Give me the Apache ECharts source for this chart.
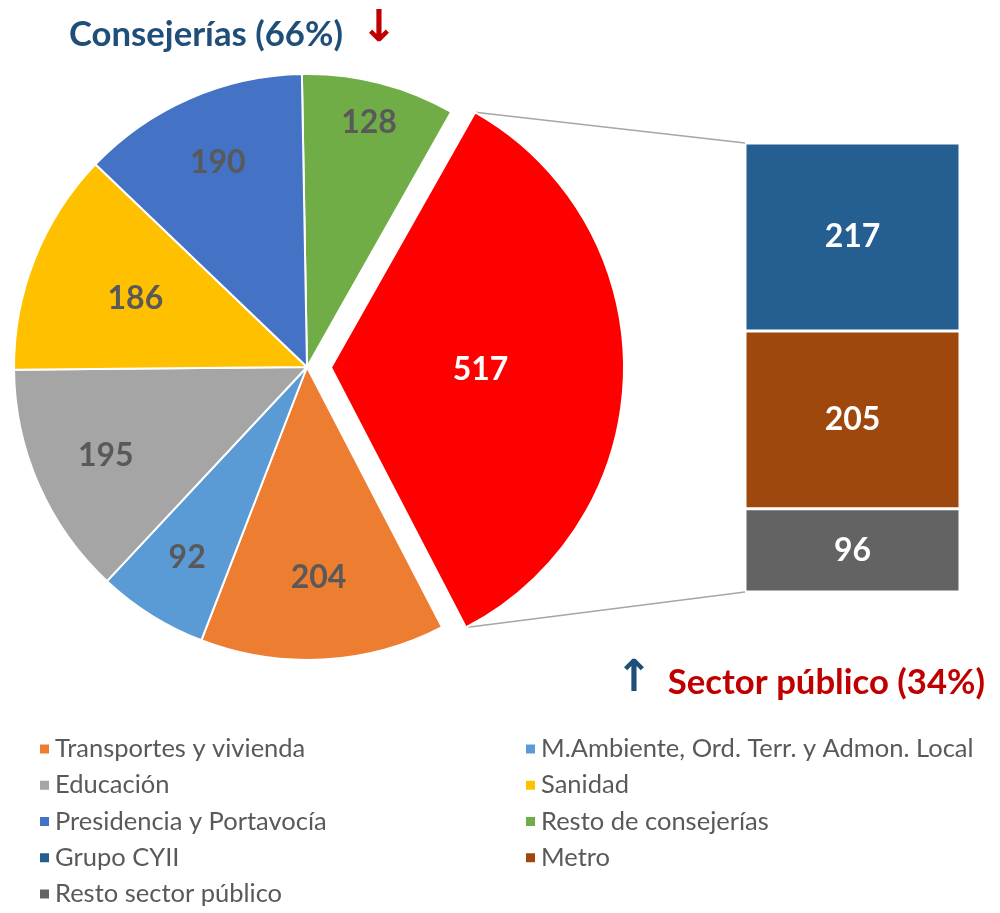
<!DOCTYPE html>
<html>
<head>
<meta charset="utf-8">
<script src="https://cdn.jsdelivr.net/npm/echarts@6/dist/echarts.min.js"></script>
<style>
  html, body { margin: 0; padding: 0; background: #fff; }
  #chart { width: 1000px; height: 913px; }
</style>
</head>
<body>
<div id="chart"></div>
<script>
// pie slices, clockwise from the top
const pieNames = ['Resto de consejerías', 'Sector público', 'Transportes y vivienda', 'M.Ambiente, Ord. Terr. y Admon. Local', 'Educación', 'Sanidad', 'Presidencia y Portavocía']
const pieValues = [128, 517, 204, 92, 195, 186, 190]
const pieColors = ['#70AD47', '#FF0000', '#ED7D31', '#5B9BD5', '#A5A5A5', '#FFC000', '#4472C4']

// breakdown of "Sector público", bottom to top
const barNames = ['Resto sector público', 'Metro', 'Grupo CYII']
const barValues = [96, 205, 217]
const barColors = ['#636363', '#9E480E', '#255E91']

const legendLeft = ['Transportes y vivienda', 'Educación', 'Presidencia y Portavocía', 'Grupo CYII', 'Resto sector público']
const legendRight = ['M.Ambiente, Ord. Terr. y Admon. Local', 'Sanidad', 'Resto de consejerías', 'Metro']

// layout
const CX = 307, CY = 367, R = 293
const START = 91 // echarts startAngle (90 = top)
const EXPLODE = 24
const EXPLODED = 1
const labelRadius = [0.86, 0.47, 0.72, 0.77, 0.75, 0.63, 0.76] // fraction of R, per slice
const BAR_LEFT = 745, BAR_TOP = 143, BAR_W = 215, BAR_H = 449
const FONT = 'Lato'

let total = pieValues.reduce((a, b) => a + b, 0)
// angle clockwise from top, degrees
function sliceAngles (i) {
  let cum = 0
  for (let k = 0; k < i; k++) cum += pieValues[k]
  let a0 = (90 - START) + cum / total * 360
  let a1 = a0 + pieValues[i] / total * 360
  return [a0, a1]
}
function polar (x0, y0, r, deg) {
  let t = deg * Math.PI / 180
  return [x0 + r * Math.sin(t), y0 - r * Math.cos(t)]
}
function sliceCenter (i) {
  if (i !== EXPLODED) return [CX, CY]
  let a = sliceAngles(i)
  return polar(CX, CY, EXPLODE, (a[0] + a[1]) / 2)
}

let pieData = pieNames.map((n, i) => ({
  name: n,
  value: pieValues[i],
  selected: i === EXPLODED,
  itemStyle: { color: pieColors[i] },
  label: { color: i === EXPLODED ? '#fff' : '#595959' },
  select: { itemStyle: { color: pieColors[i] }, label: { color: i === EXPLODED ? '#fff' : '#595959' } }
}))

let barSeries = barNames.map((n, i) => ({
  name: n,
  type: 'bar',
  stack: 'sp',
  barWidth: '100%',
  data: [barValues[i]],
  itemStyle: { color: barColors[i], borderColor: '#fff', borderWidth: 1.5 },
  label: {
    show: true,
    position: 'inside',
    color: '#fff',
    fontFamily: FONT,
    fontWeight: 'bold',
    fontSize: 32
  },
  emphasis: { disabled: true }
}))

// connector lines from the exploded slice to the bar
let ea = sliceAngles(EXPLODED)
let ec = sliceCenter(EXPLODED)
let p0 = polar(ec[0], ec[1], R, ea[0])
let p1 = polar(ec[0], ec[1], R, ea[1])
let lineStyle = { stroke: '#A6A6A6', lineWidth: 1.5 }

let legendBase = {
  orient: 'vertical',
  top: 736,
  height: 190,
  padding: 0,
  itemWidth: 11,
  itemHeight: 11,
  itemGap: 10.25,
  itemTextGap: 12,
  icon: 'rect',
  selectedMode: false,
  textStyle: { fontFamily: FONT, fontSize: 25.5, color: '#595959', lineHeight: 26 }
}

let option = {
  animation: false,
  legend: [
    Object.assign({}, legendBase, { left: 38, data: legendLeft }),
    Object.assign({}, legendBase, { left: 524, data: legendRight })
  ],
  grid: { left: BAR_LEFT, top: BAR_TOP, width: BAR_W, height: BAR_H },
  xAxis: { type: 'category', data: ['Sector público'], show: false },
  yAxis: { type: 'value', min: 0, max: barValues.reduce((a, b) => a + b, 0), show: false },
  series: [
    {
      type: 'pie',
      center: [CX, CY],
      radius: [0, R],
      startAngle: START,
      selectedMode: 'single',
      selectedOffset: EXPLODE,
      avoidLabelOverlap: false,
      itemStyle: { borderColor: '#fff', borderWidth: 2 },
      label: {
        show: true,
        position: 'inside',
        formatter: '{c}',
        fontFamily: FONT,
        fontWeight: 'bold',
        fontSize: 32
      },
      labelLine: { show: false },
      labelLayout: function (p) {
        let i = p.dataIndex
        let a = sliceAngles(i)
        let c = sliceCenter(i)
        let pt = polar(c[0], c[1], R * labelRadius[i], (a[0] + a[1]) / 2)
        return { x: pt[0], y: pt[1], align: 'center', verticalAlign: 'middle' }
      },
      emphasis: { disabled: true },
      data: pieData
    }
  ].concat(barSeries),
  graphic: [
    { type: 'line', shape: { x1: p0[0], y1: p0[1], x2: BAR_LEFT, y2: BAR_TOP }, style: lineStyle, silent: true },
    { type: 'line', shape: { x1: p1[0], y1: p1[1], x2: BAR_LEFT, y2: BAR_TOP + BAR_H }, style: lineStyle, silent: true },
    {
      type: 'text', x: 69, y: 35,
      style: { text: 'Consejerías (66%)', fill: '#1F4E79', fontFamily: FONT, fontWeight: 'bold', fontSize: 34.7, align: 'left', verticalAlign: 'middle', textAlign: 'left', textVerticalAlign: 'middle' }
    },
    {
      type: 'text', x: 379, y: 30,
      style: { text: '↓', fill: '#C00000', fontFamily: 'DejaVu Sans', fontWeight: 'bold', fontSize: 44, align: 'center', verticalAlign: 'middle', textAlign: 'center', textVerticalAlign: 'middle' }
    },
    {
      type: 'text', x: 634, y: 680,
      style: { text: '↑', fill: '#1F4E79', fontFamily: 'DejaVu Sans', fontWeight: 'bold', fontSize: 44, align: 'center', verticalAlign: 'middle', textAlign: 'center', textVerticalAlign: 'middle' }
    },
    {
      type: 'text', x: 985, y: 683,
      style: { text: 'Sector público (34%)', fill: '#C00000', fontFamily: FONT, fontWeight: 'bold', fontSize: 34.7, align: 'right', verticalAlign: 'middle', textAlign: 'right', textVerticalAlign: 'middle' }
    }
  ]
}

let chart = echarts.init(document.getElementById('chart'))
chart.setOption(option)
window.addEventListener('resize', () => {
  chart.resize()
})
</script>
</body>
</html>
